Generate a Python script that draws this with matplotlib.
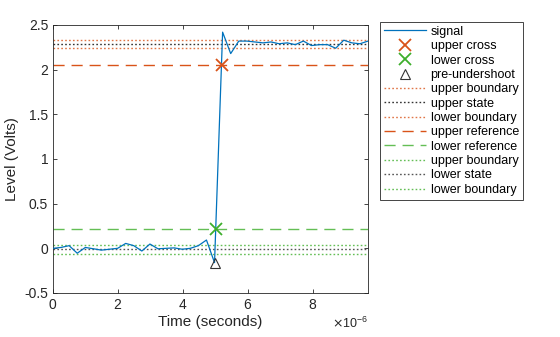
import numpy as np
import matplotlib
matplotlib.use("Agg")
import matplotlib.pyplot as plt
from matplotlib.ticker import ScalarFormatter

plt.rcParams['font.family'] = ['Liberation Sans', 'DejaVu Sans']

# ---- data ----
t_end = 9.69e-6
n_samples = 40
signal = [0.0, 0.01, 0.03, -0.055, 0.01, -0.005, -0.02, -0.01, 0.0, 0.055,
          0.03, -0.03, 0.048, -0.005, 0.0, 0.005, -0.01, 0.0, 0.03, 0.093,
          -0.16, 2.42, 2.18, 2.32, 2.32, 2.31, 2.30, 2.31, 2.29, 2.30,
          2.28, 2.32, 2.27, 2.28, 2.28, 2.24, 2.33, 2.30, 2.29, 2.32]
upper_state = 2.29
lower_state = -0.013
boundary_tol = 0.046
upper_ref = 2.057
lower_ref = 0.217
upper_cross = (5.185e-6, 2.057)
lower_cross = (5.006e-6, 0.217)
undershoot = (4.969e-6, -0.16)

t = np.linspace(0, t_end, n_samples)

c_sig = '#0072BD'
c_up = '#D95319'
c_lo = '#3DAE2B'

fig = plt.figure(figsize=(5.6, 3.37), dpi=100)
ax = fig.add_axes([53/560, 1-293/337, (368-53)/560, (293-25)/337])

h_sig, = ax.plot(t, signal, color=c_sig, lw=0.9, label='signal')
h_uc, = ax.plot([upper_cross[0]], [upper_cross[1]], 'x', color=c_up, ms=8, mew=1.3,
                ls='none', label='upper cross')
h_lc, = ax.plot([lower_cross[0]], [lower_cross[1]], 'x', color=c_lo, ms=8, mew=1.3,
                ls='none', label='lower cross')
h_pu, = ax.plot([undershoot[0]], [undershoot[1]], '^', mfc='none', mec='#333333',
                ms=7, mew=0.8, ls='none', label='pre-undershoot')

dot = (0, (1.2, 1.6))
lw_b = 1.0
h1 = ax.axhline(upper_state + boundary_tol, color=c_up, ls=dot, lw=lw_b, alpha=0.8, label='upper boundary')
h2 = ax.axhline(upper_state, color='#333333', ls=dot, lw=lw_b, label='upper state')
h3 = ax.axhline(upper_state - boundary_tol, color=c_up, ls=dot, lw=lw_b, alpha=0.8, label='lower boundary')
h4 = ax.axhline(upper_ref, color=c_up, ls=(0, (8, 5)), lw=1.0, label='upper reference')
h5 = ax.axhline(lower_ref, color=c_lo, ls=(0, (8, 5)), lw=1.0, alpha=0.8, label='lower reference')
h6 = ax.axhline(lower_state + boundary_tol, color=c_lo, ls=dot, lw=lw_b, alpha=0.8, label='upper boundary')
h7 = ax.axhline(lower_state, color='#555555', ls=dot, lw=lw_b, label='lower state')
h8 = ax.axhline(lower_state - boundary_tol, color=c_lo, ls=dot, lw=lw_b, alpha=0.8, label='lower boundary')

h_sig.set_zorder(3)
for h in (h_uc, h_lc, h_pu):
    h.set_zorder(4)

ax.set_xlim(0, t_end)
ax.set_ylim(-0.5, 2.5)
ax.set_xticks([0, 2e-6, 4e-6, 6e-6, 8e-6])
ax.set_yticks([-0.5, 0, 0.5, 1, 1.5, 2, 2.5])
ax.set_yticklabels(['-0.5', '0', '0.5', '1', '1.5', '2', '2.5'])
fmt = ScalarFormatter(useMathText=True)
fmt.set_powerlimits((-3, 3))
ax.xaxis.set_major_formatter(fmt)
ax.xaxis.get_offset_text().set_fontsize(9)

ax.tick_params(direction='in', top=True, right=True, labelsize=10, length=3, width=0.6,
               colors='#262626')
for s in ax.spines.values():
    s.set_linewidth(0.6)
    s.set_color('#262626')

ax.set_xlabel('Time (seconds)', fontsize=11, color='#262626', labelpad=2)
ax.set_ylabel('Level (Volts)', fontsize=11, color='#262626', labelpad=4)

handles = [h_sig, h_uc, h_lc, h_pu, h1, h2, h3, h4, h5, h6, h7, h8]
leg = ax.legend(handles=handles, loc='upper left', bbox_to_anchor=(380/560, 1-22/337),
                bbox_transform=fig.transFigure, fontsize=9, frameon=True, fancybox=False,
                edgecolor='#262626', framealpha=1, handlelength=3.4, handletextpad=0.35,
                labelspacing=0.19, borderpad=0.3, borderaxespad=0)
leg.get_frame().set_linewidth(0.6)

fig.savefig('out.png', dpi=100)
